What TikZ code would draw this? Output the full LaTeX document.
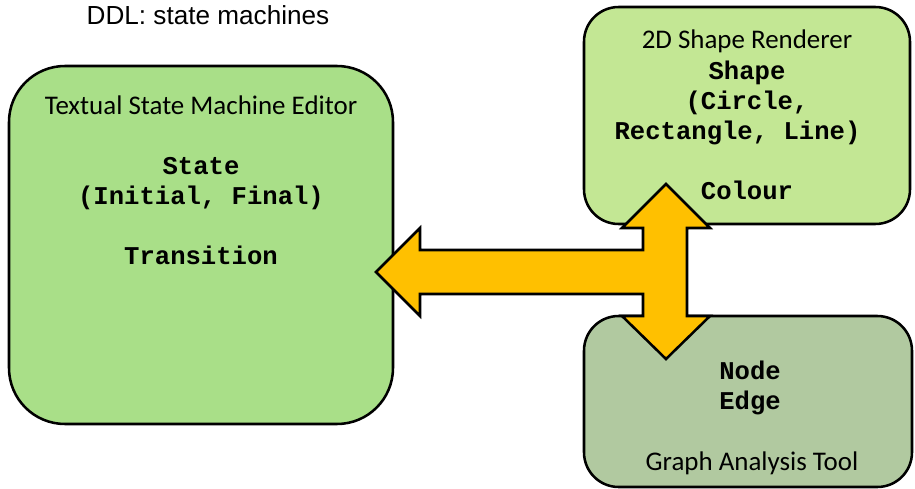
\documentclass[tikz,border=0pt]{standalone}
\usepackage{fontspec}
\setmainfont{Carlito}
\newfontfamily\titlefont{Liberation Sans}
\newfontfamily\codefont{Liberation Mono}
\definecolor{editorgreen}{HTML}{A9DF88}
\definecolor{renderergreen}{HTML}{C3E794}
\definecolor{graphgreen}{HTML}{B1C9A0}
\definecolor{arrowgold}{HTML}{FFC000}
\tikzset{
  tool/.style={draw=black, line width=1.9pt, rectangle, inner sep=0pt},
  label/.style={anchor=base, inner sep=0pt, font=\fontsize{20.2}{22.5}\selectfont},
  code/.style={anchor=base, inner sep=0pt, font=\fontsize{19.2}{22.5}\selectfont\codefont\bfseries},
  heading/.style={anchor=base, inner sep=0pt, font=\fontsize{19.6}{22.5}\selectfont\titlefont},
  bigarrow/.style={draw=black, fill=arrowgold, line width=1.9pt, line join=miter}
}
\begin{document}
\begin{tikzpicture}[x=0.75pt, y=-0.75pt]
\useasboundingbox (0,0) rectangle (915,489);

% title
\node[heading] (title) at (208,25) {DDL: state machines};

% tool boxes
\node[tool, fill=editorgreen, rounded corners=42pt,
      minimum width=288pt, minimum height=268.5pt] (editor) at (201,245) {};
\node[tool, fill=renderergreen, rounded corners=26pt,
      minimum width=244.5pt, minimum height=162.75pt] (renderer) at (747,115.5) {};
\node[tool, fill=graphgreen, rounded corners=26pt,
      minimum width=246pt, minimum height=128.25pt] (graph) at (748,401.5) {};

% editor contents
\node[label] (editorname) at (201,114) {Textual State Machine Editor};
\node[code] (state) at (201,174) {State};
\node[code] (statekinds) at (201,204) {(Initial, Final)};
\node[code] (transition) at (201,264) {Transition};

% renderer contents
\node[label] (renderername) at (747,48) {2D Shape Renderer};
\node[code] (shape) at (747,79) {Shape};
\node[code] (shapekinds1) at (747,109) {(Circle,};
\node[code] (shapekinds2) at (737.5,139) {Rectangle, Line)};
\node[code] (colour) at (747,199) {Colour};

% graph tool contents
\node[code] (node) at (750,379) {Node};
\node[code] (edge) at (750,409) {Edge};
\node[label] (graphname) at (752,470) {Graph Analysis Tool};

% three-way block arrow linking the tools
\draw[bigarrow]
  (376,272) -- (420,228) -- (420,250) -- (643,250) -- (643,228)
  -- (622,228) -- (666,184) -- (710,228) -- (687,228)
  -- (687,316) -- (710,316) -- (666,359) -- (622,316) -- (643,316)
  -- (643,294) -- (420,294) -- (420,316) -- cycle;
\end{tikzpicture}
\end{document}
